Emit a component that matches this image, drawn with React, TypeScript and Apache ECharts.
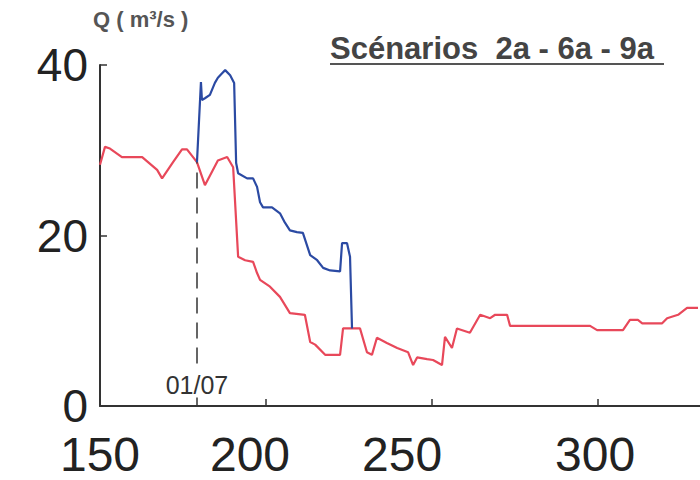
import React, { useEffect, useRef } from "react";
import * as echarts from "echarts";

// Red series (scenario without support)
const redDays = [150, 151.5, 153, 156.6, 162.7, 167.2, 168.7, 172, 174.7, 176.2, 179.2, 181.6, 185.5, 188.3, 190.1, 191.6, 193.7, 196.1, 197.3, 198.2, 201.2, 204.2, 207.2, 211.7, 213.3, 214.8, 217.8, 222.3, 223.2, 228.3, 230.4, 231.9, 233.4, 236.4, 239.5, 242.8, 244.3, 245.5, 248.5, 250.3, 253, 253.9, 256, 257.5, 261.4, 264.5, 267.5, 269, 272.6, 273.5, 297.6, 299.7, 307.5, 309.6, 312, 313.3, 319.3, 320.8, 324.1, 326.8, 330.1];
const redFlow = [28.3, 30.4, 30.2, 29.2, 29.2, 27.7, 26.7, 28.6, 30.1, 30.1, 28.6, 25.9, 28.8, 29.2, 28.0, 17.5, 17.1, 16.9, 15.6, 14.8, 14.0, 12.8, 10.9, 10.7, 7.5, 7.2, 6.0, 6.0, 9.1, 9.1, 6.3, 6.0, 8.0, 7.4, 6.8, 6.3, 4.8, 5.7, 5.5, 5.4, 4.8, 8.1, 6.8, 9.1, 8.6, 10.7, 10.3, 10.7, 10.7, 9.4, 9.4, 8.9, 8.9, 10.1, 10.1, 9.7, 9.7, 10.3, 10.7, 11.5, 11.5];

// Blue series (scenario with support release)
const blueDays = [179.2, 180.4, 180.7, 181.6, 183.1, 184.6, 185.5, 186.7, 187.7, 189.2, 190.4, 191.0, 191.6, 194.3, 196.1, 197.3, 198.2, 199.1, 201.8, 204.2, 205.7, 207.2, 209.3, 211.1, 213.3, 215.4, 217.2, 219.3, 222.3, 222.9, 224.4, 225.3, 225.9];
const blueFlow = [28.6, 38.0, 35.9, 36.1, 36.5, 37.9, 38.5, 39.0, 39.4, 38.8, 37.9, 28.5, 27.3, 26.7, 26.7, 25.7, 23.9, 23.3, 23.3, 22.6, 21.5, 20.6, 20.4, 20.3, 17.7, 17.1, 16.2, 15.9, 15.8, 19.1, 19.1, 17.5, 9.1];

const xTicks = [150, 200, 250, 300];
const yTicks = [0, 20, 40];
const markerDay = 179.2;
const markerLabel = "01/07";
const markerTop = 28.6;
const yTitle = "Q ( m³/s )";
const chartTitle = "Scénarios  2a - 6a - 9a";

const zip = (xs: number[], ys: number[]) => xs.map((x, i) => [x, ys[i]]);

export default function App() {
  const ref = useRef<HTMLDivElement>(null);
  useEffect(() => {
    if (!ref.current) return;
    const chart = echarts.init(ref.current, null, { renderer: "svg" });
    const labelFont = "'Liberation Sans', Arial, sans-serif";
    chart.setOption({
      animation: false,
      backgroundColor: "#ffffff",
      grid: { left: 100, right: 0, top: 65, bottom: 74, containLabel: false },
      xAxis: {
        type: "value",
        min: 150,
        max: 330.7,
        interval: 50,
        axisLine: { lineStyle: { color: "#333", width: 2 } },
        axisTick: { inside: true, length: 7, lineStyle: { color: "#333", width: 1.5 } },
        splitLine: { show: false },
        axisLabel: {
          showMaxLabel: false,
          margin: 28,
          fontFamily: labelFont,
          fontSize: 48,
          lineHeight: 40,
          color: "#222",
          formatter: (v: number) => (xTicks.includes(v) ? `{s${v}|${v}}` : ""),
          rich: {
            s150: { padding: [0, 0, 0, 0] },
            s200: { padding: [0, 32, 0, 0] },
            s250: { padding: [0, 60, 0, 0] },
            s300: { padding: [0, 6, 0, 0] },
          },
        },
      },
      yAxis: {
        type: "value",
        min: 0,
        max: 40,
        interval: 20,
        axisLine: { show: true, lineStyle: { color: "#333", width: 2 } },
        axisTick: { show: true, inside: true, length: 7, lineStyle: { color: "#333", width: 1.5 } },
        splitLine: { show: false },
        axisLabel: {
          margin: 12,
          fontFamily: labelFont,
          fontSize: 46,
          lineHeight: 40,
          color: "#222",
          formatter: (v: number) => (yTicks.includes(v) ? String(v) : ""),
        },
      },
      graphic: [
        {
          type: "text",
          left: 93,
          top: 8,
          style: { text: yTitle, fontSize: 22, fontWeight: "bold", fill: "#555", fontFamily: labelFont },
        },
        {
          type: "text",
          left: 330,
          top: 33,
          style: { text: chartTitle, fontSize: 31, fontWeight: "bold", fill: "#444", fontFamily: labelFont },
        },
        {
          type: "line",
          shape: { x1: 330, y1: 64, x2: 664, y2: 64 },
          style: { stroke: "#555", lineWidth: 2 },
        },
      ],
      series: [
        {
          type: "line",
          name: "red",
          data: zip(redDays, redFlow),
          showSymbol: false,
          lineStyle: { color: "#e8485a", width: 2.2 },
          itemStyle: { color: "#e8485a" },
          z: 3,
          markLine: {
            silent: true,
            symbol: "none",
            lineStyle: { color: "#333", type: [16, 9], width: 1.5 },
            label: {
              show: true,
              position: "start",
              formatter: markerLabel,
              fontSize: 25,
              color: "#333",
              distance: 9,
              fontFamily: labelFont,
            },
            data: [
              [
                { coord: [markerDay, 5] },
                { coord: [markerDay, markerTop] },
              ],
            ],
          },
        },
        {
          type: "line",
          name: "blue",
          data: zip(blueDays, blueFlow),
          showSymbol: false,
          lineStyle: { color: "#2b4aa3", width: 2.2 },
          itemStyle: { color: "#2b4aa3" },
          z: 4,
          markLine: {
            silent: true,
            symbol: "none",
            label: { show: false },
            lineStyle: { color: "#333", type: "solid", width: 1.5 },
            data: [[{ coord: [markerDay, 0] }, { coord: [markerDay, 1] }]],
          },
        },
      ],
    });
    return () => chart.dispose();
  }, []);
  return <div ref={ref} style={{ width: 700, height: 480, position: "absolute", left: 0, top: 0 }} />;
}
